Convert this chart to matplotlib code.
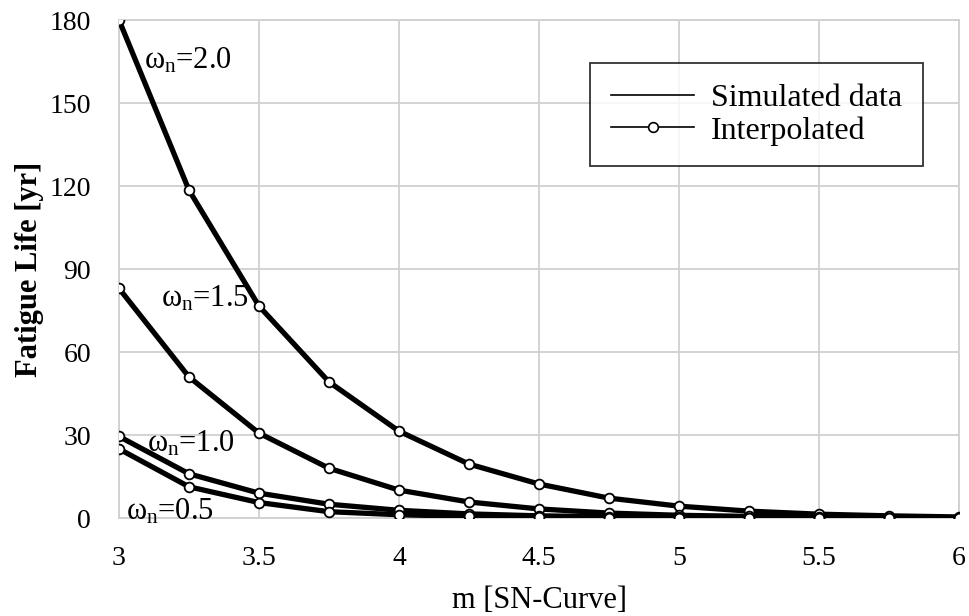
import matplotlib.pyplot as plt
from matplotlib.lines import Line2D

plt.rcParams["font.family"] = "Liberation Serif"
plt.rcParams["mathtext.fontset"] = "custom"
plt.rcParams["mathtext.rm"] = "Liberation Serif"
plt.rcParams["mathtext.it"] = "Liberation Serif:italic"

# ==========================
# data
# ==========================
m_values = [3.0, 3.25, 3.5, 3.75, 4.0, 4.25, 4.5, 4.75, 5.0, 5.25, 5.5, 5.75, 6.0]

life_w20 = [180.0, 118.5, 76.6, 49.2, 31.4, 19.5, 12.3, 7.2, 4.3, 2.5, 1.4, 0.8, 0.4]
life_w15 = [83.0, 51.0, 30.7, 18.0, 10.1, 5.8, 3.3, 1.8, 1.0, 0.6, 0.3, 0.2, 0.1]
life_w10 = [29.5, 16.0, 9.0, 5.0, 2.8, 1.5, 0.8, 0.5, 0.3, 0.2, 0.1, 0.05, 0.03]
life_w05 = [25.0, 11.3, 5.6, 2.3, 1.2, 0.6, 0.3, 0.15, 0.08, 0.04, 0.02, 0.01, 0.01]

series = [life_w20, life_w15, life_w10, life_w05]
labels = ["2.0", "1.5", "1.0", "0.5"]
label_pos = [(3.09, 160), (3.15, 74), (3.1, 21.5), (3.025, -3)]

x_ticks = [3, 3.5, 4, 4.5, 5, 5.5, 6]
x_ticklabels = ["3", "3.5", "4", "4.5", "5", "5.5", "6"]
y_ticks = [0, 30, 60, 90, 120, 150, 180]

# ==========================
# plot
# ==========================
fig = plt.figure(figsize=(9.69, 6.16), dpi=100)
ax = fig.add_axes([0.1228, 0.159, 0.8669, 0.8085])

for vals in series:
    # simulated data (thick) with interpolated points on top
    ax.plot(m_values, vals, color="black", lw=3.8, solid_capstyle="round", zorder=3)
    ax.plot(m_values, vals, color="black", lw=1.2, marker="o", markersize=7,
            markerfacecolor="white", markeredgecolor="black", markeredgewidth=1.3, zorder=4)

for lab, (lx, ly) in zip(labels, label_pos):
    ax.text(lx, ly, r"$\mathregular{\omega_n}$=" + lab, fontsize=22, va="bottom",
            ha="left", zorder=5, clip_on=False)

ax.set_xlim(3, 6)
ax.set_ylim(0, 180)
ax.set_xticks(x_ticks)
ax.set_xticklabels(x_ticklabels)
ax.set_yticks(y_ticks)
ax.tick_params(length=0, labelsize=20)
ax.tick_params(axis="x", pad=20)
ax.tick_params(axis="y", pad=20)
ax.grid(True, color="#d0d0d0", lw=1.3)
ax.set_axisbelow(True)
for sp in ax.spines.values():
    sp.set_color("#d0d0d0")
    sp.set_linewidth(1.3)

ax.set_xlabel("m [SN-Curve]", fontsize=22, labelpad=11)
ax.set_ylabel("Fatigue Life [yr]", fontsize=22, fontweight="bold", labelpad=4)

handles = [
    Line2D([], [], color="black", lw=1.2),
    Line2D([], [], color="black", lw=1.2, marker="o", markersize=7,
           markerfacecolor="white", markeredgewidth=1.2),
]
leg = ax.legend(handles, ["Simulated data", "Interpolated"], loc="upper right",
                bbox_to_anchor=(0.957, 0.914), fontsize=23, frameon=True,
                fancybox=False, edgecolor="black", handlelength=2.6,
                handletextpad=0.53, borderpad=0.65, labelspacing=0.1,
                borderaxespad=0)
leg.get_frame().set_linewidth(1.3)

fig.savefig("out.png", dpi=100)
